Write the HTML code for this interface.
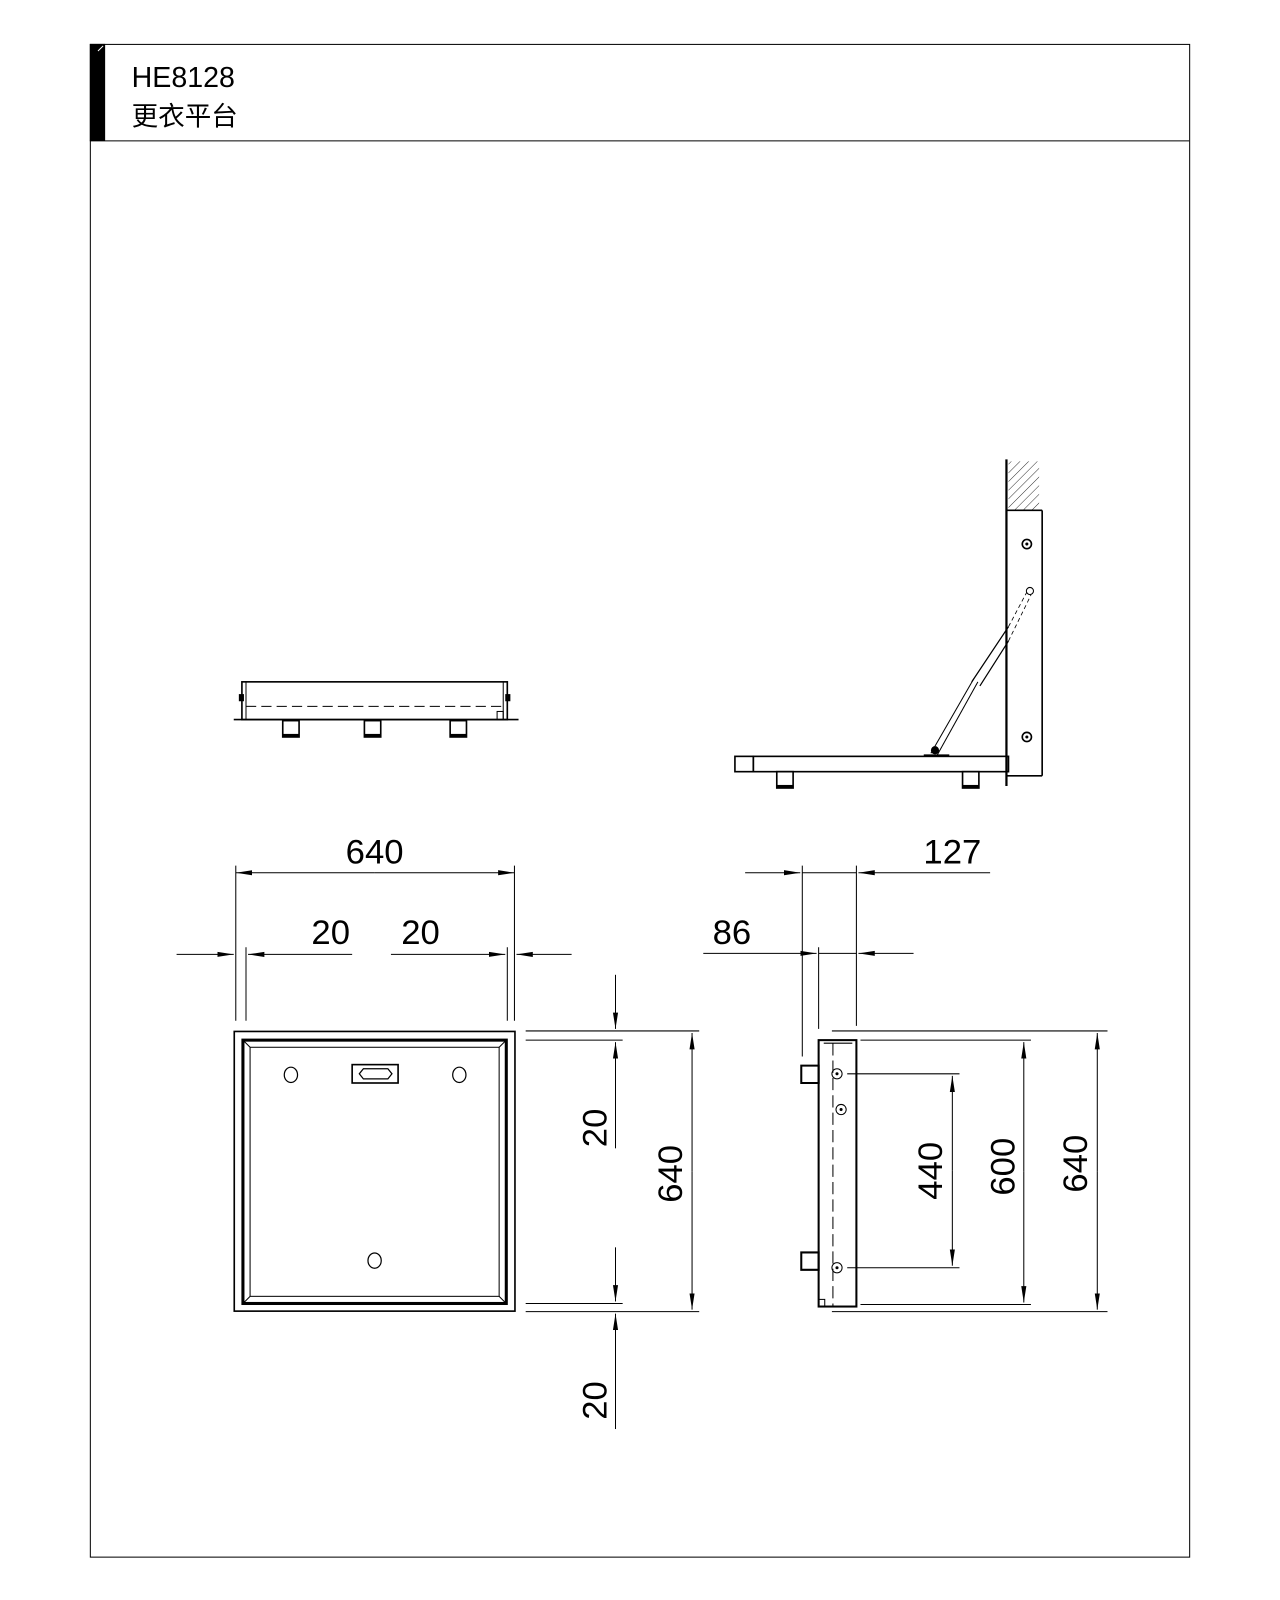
<!DOCTYPE html>
<html><head><meta charset="utf-8"><style>html,body{margin:0;padding:0;background:#fff}svg{display:block}</style></head>
<body>
<svg width="1280" height="1600" viewBox="0 0 1254 1567.5" xmlns="http://www.w3.org/2000/svg" font-family="'Liberation Sans','Noto Sans CJK SC',sans-serif">
<defs>
<marker id="a" viewBox="0 0 16 6" refX="16" refY="3" markerWidth="16" markerHeight="6" markerUnits="userSpaceOnUse" orient="auto"><path d="M0,0.5 L16,3 L0,5.5 Z" fill="#000"/></marker>
<pattern id="h" width="6" height="6" patternUnits="userSpaceOnUse" patternTransform="rotate(45)"><line x1="0" y1="0" x2="0" y2="6" stroke="#000" stroke-width="0.8"/></pattern>
</defs>
<g fill="none" stroke="#000" stroke-width="1">
<rect x="88.5" y="43.5" width="1077" height="1482"/>
<line x1="88" y1="138" x2="1165" y2="138"/>
</g>
<rect x="88" y="43" width="15" height="95" fill="#000"/>
<line x1="96" y1="50" x2="101" y2="45" stroke="#fff" stroke-width="1"/>
<text x="129" y="85" font-size="28">HE8128</text>
<text x="129" y="123" font-size="26">更衣平台</text>

<!-- top-left elevation -->
<g fill="none" stroke="#000" stroke-width="1.6">
<rect x="237" y="668" width="260" height="37"/>
<line x1="241" y1="668" x2="241" y2="705" stroke-width="1"/>
<line x1="493" y1="668" x2="493" y2="705" stroke-width="1"/>
<line x1="241" y1="692" x2="493" y2="692" stroke-width="1" stroke-dasharray="10,5"/>
<line x1="229" y1="705" x2="508" y2="705"/>
<rect x="277" y="706" width="16" height="16"/>
<rect x="357" y="706" width="16" height="16"/>
<rect x="441" y="706" width="16" height="16"/>
<rect x="487" y="697" width="6" height="8" stroke-width="1"/>
</g>
<rect x="277" y="719" width="16" height="3" fill="#000"/>
<rect x="357" y="719" width="16" height="3" fill="#000"/>
<rect x="441" y="719" width="16" height="3" fill="#000"/>
<rect x="234" y="680" width="5" height="7" fill="#000"/>
<rect x="495" y="680" width="5" height="7" fill="#000"/>

<!-- top-right elevation -->
<rect x="988" y="452" width="30" height="48" fill="url(#h)"/>
<g fill="none" stroke="#000" stroke-width="1.6">
<line x1="986" y1="450" x2="986" y2="770" stroke-width="2.2"/>
<line x1="986" y1="500" x2="1021" y2="500"/>
<line x1="1021" y1="500" x2="1021" y2="760"/>
<line x1="986" y1="760" x2="1021" y2="760"/>
<circle cx="1006" cy="533" r="4.5"/><circle cx="1006" cy="722" r="4.5"/>
<rect x="738" y="741" width="250" height="15"/>
<rect x="720" y="741" width="18" height="15"/>
<rect x="761" y="756" width="16" height="16"/>
<rect x="943" y="756" width="16" height="16"/>
<line x1="912" y1="738" x2="954" y2="665" stroke-width="1"/>
<line x1="918" y1="740" x2="958" y2="668" stroke-width="1"/>
<line x1="952" y1="668" x2="988" y2="614" stroke-width="1.2"/>
<line x1="960" y1="672" x2="988" y2="628" stroke-width="1.2"/>
<line x1="988" y1="614" x2="1006" y2="580" stroke-width="0.8" stroke-dasharray="4,3"/>
<line x1="988" y1="628" x2="1010" y2="583" stroke-width="0.8" stroke-dasharray="4,3"/>
<line x1="905" y1="740" x2="930" y2="740" stroke-width="2"/>
</g>
<rect x="761" y="769" width="16" height="3" fill="#000"/>
<rect x="943" y="769" width="16" height="3" fill="#000"/>
<circle cx="1006" cy="533" r="1.5"/><circle cx="1006" cy="722" r="1.5"/>
<circle cx="916" cy="735" r="4" fill="#000"/>
<circle cx="1009" cy="579" r="3.5" fill="none" stroke="#000"/>

<!-- front view -->
<g fill="none" stroke="#000">
<rect x="229.5" y="1010.5" width="275" height="274" stroke-width="1.6"/>
<rect x="238" y="1019" width="258" height="258" stroke-width="3"/>
<rect x="245" y="1026" width="244" height="244" stroke-width="1"/>
<line x1="238" y1="1019" x2="245" y2="1026"/><line x1="496" y1="1019" x2="489" y2="1026"/>
<line x1="238" y1="1277" x2="245" y2="1270"/><line x1="496" y1="1277" x2="489" y2="1270"/>
<ellipse cx="285" cy="1053" rx="6.5" ry="7.5" stroke-width="1.2"/>
<ellipse cx="450" cy="1053" rx="6.5" ry="7.5" stroke-width="1.2"/>
<ellipse cx="367" cy="1235" rx="6.5" ry="7.5" stroke-width="1.2"/>
<rect x="345" y="1043" width="45" height="18" stroke-width="1.6"/>
<path d="M352,1052 L356,1047 L380,1047 L384,1052 L380,1057 L356,1057 Z" stroke-width="1.2"/>
</g>

<!-- side view -->
<g fill="none" stroke="#000">
<rect x="802" y="1019" width="37" height="261" stroke-width="2"/>
<line x1="816" y1="1022" x2="816" y2="1280" stroke-dasharray="12,5"/>
<line x1="807" y1="1022" x2="835" y2="1022"/>
<path d="M785,1044 h17 v17 h-17 z" stroke-width="2"/>
<path d="M785,1227 h17 v17 h-17 z" stroke-width="2"/>
<circle cx="820" cy="1052" r="5"/><circle cx="824" cy="1087" r="5"/><circle cx="820" cy="1242" r="5"/>
<rect x="802" y="1273" width="6" height="7"/>
</g>
<circle cx="820" cy="1052" r="1.5"/><circle cx="824" cy="1087" r="1.5"/><circle cx="820" cy="1242" r="1.5"/>

<!-- dimension lines -->
<g stroke="#000" stroke-width="1" fill="none">
<line x1="231" y1="848" x2="231" y2="1000"/><line x1="504" y1="848" x2="504" y2="1000"/>
<line x1="367" y1="855" x2="231" y2="855" marker-end="url(#a)"/>
<line x1="367" y1="855" x2="504" y2="855" marker-end="url(#a)"/>
<line x1="241" y1="928" x2="241" y2="1000"/><line x1="497" y1="928" x2="497" y2="1000"/>
<line x1="173" y1="935" x2="229" y2="935" marker-end="url(#a)"/>
<line x1="345" y1="935" x2="243" y2="935" marker-end="url(#a)"/>
<line x1="383" y1="935" x2="495" y2="935" marker-end="url(#a)"/>
<line x1="560" y1="935" x2="506" y2="935" marker-end="url(#a)"/>
<line x1="515" y1="1010" x2="685" y2="1010"/><line x1="515" y1="1019" x2="610" y2="1019"/>
<line x1="515" y1="1277" x2="610" y2="1277"/><line x1="515" y1="1285" x2="685" y2="1285"/>
<line x1="603" y1="955" x2="603" y2="1008" marker-end="url(#a)"/>
<line x1="603" y1="1125" x2="603" y2="1021" marker-end="url(#a)"/>
<line x1="603" y1="1222" x2="603" y2="1275" marker-end="url(#a)"/>
<line x1="603" y1="1400" x2="603" y2="1287" marker-end="url(#a)"/>
<line x1="678" y1="1148" x2="678" y2="1012" marker-end="url(#a)"/>
<line x1="678" y1="1148" x2="678" y2="1283" marker-end="url(#a)"/>
<line x1="786" y1="848" x2="786" y2="1035"/><line x1="802" y1="928" x2="802" y2="1008"/><line x1="839" y1="848" x2="839" y2="1005"/>
<line x1="730" y1="855" x2="784" y2="855" marker-end="url(#a)"/>
<line x1="786" y1="855" x2="839" y2="855"/>
<line x1="970" y1="855" x2="841" y2="855" marker-end="url(#a)"/>
<line x1="689" y1="934" x2="800" y2="934" marker-end="url(#a)"/>
<line x1="802" y1="934" x2="839" y2="934"/>
<line x1="895" y1="934" x2="841" y2="934" marker-end="url(#a)"/>
<line x1="815" y1="1010" x2="1085" y2="1010"/><line x1="843" y1="1019" x2="1010" y2="1019"/>
<line x1="830" y1="1052" x2="940" y2="1052"/><line x1="830" y1="1242" x2="940" y2="1242"/>
<line x1="843" y1="1278" x2="1010" y2="1278"/><line x1="815" y1="1285" x2="1085" y2="1285"/>
<line x1="933" y1="1147" x2="933" y2="1054" marker-end="url(#a)"/>
<line x1="933" y1="1147" x2="933" y2="1240" marker-end="url(#a)"/>
<line x1="1003" y1="1148" x2="1003" y2="1021" marker-end="url(#a)"/>
<line x1="1003" y1="1148" x2="1003" y2="1276" marker-end="url(#a)"/>
<line x1="1075" y1="1148" x2="1075" y2="1012" marker-end="url(#a)"/>
<line x1="1075" y1="1148" x2="1075" y2="1283" marker-end="url(#a)"/>
</g>
<g font-size="34" fill="#000">
<text x="367" y="846" text-anchor="middle">640</text>
<text x="324" y="925" text-anchor="middle">20</text>
<text x="412" y="925" text-anchor="middle">20</text>
<text x="933" y="846" text-anchor="middle">127</text>
<text x="717" y="925" text-anchor="middle">86</text>
<text transform="translate(594,1105) rotate(-90)" text-anchor="middle">20</text>
<text transform="translate(594,1372) rotate(-90)" text-anchor="middle">20</text>
<text transform="translate(668,1150) rotate(-90)" text-anchor="middle">640</text>
<text transform="translate(923,1147) rotate(-90)" text-anchor="middle">440</text>
<text transform="translate(994,1143) rotate(-90)" text-anchor="middle">600</text>
<text transform="translate(1065,1140) rotate(-90)" text-anchor="middle">640</text>
</g>
</svg>
</body></html>
